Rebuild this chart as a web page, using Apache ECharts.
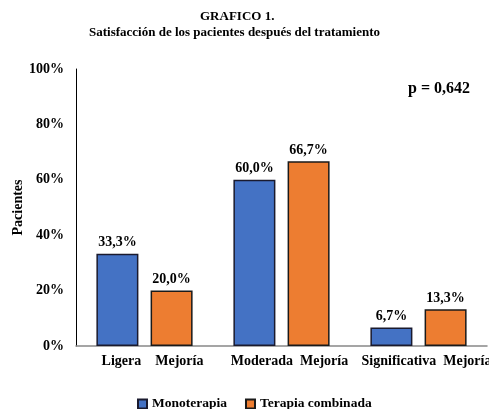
<!DOCTYPE html>
<html>
<head>
  <meta charset="UTF-8">
  <title>GRAFICO 1.</title>
  <script src="https://cdn.jsdelivr.net/npm/echarts@6/dist/echarts.min.js"></script>
</head>
<body style="margin:0">
  <div id="chart" style="width: 489px; height: 409px"></div>
  <script>
    var categorias = ['Ligera    Mejoría', 'Moderada  Mejoría', 'Significativa  Mejoría'];
    var monoterapia = [33.3, 60.0, 6.7];
    var combinada = [20.0, 66.7, 13.3];
    var serie1 = 'Monoterapia';
    var serie2 = 'Terapia combinada';

    var fuente = '"Liberation Serif", "Times New Roman", serif';
    var myChart = echarts.init(document.getElementById('chart'));

    function etiqueta(p) {
      return p.value.toFixed(1).replace('.', ',') + '%';
    }

    var option = {
      textStyle: { fontFamily: fuente },
      title: [
        {
          text: 'GRAFICO 1.',
          left: 200,
          top: 10,
          padding: 0,
          textStyle: { fontFamily: fuente, fontSize: 13, fontWeight: 'bold', color: '#000' }
        },
        {
          text: 'Satisfacción de los pacientes después del tratamiento',
          left: 89,
          top: 26,
          padding: 0,
          textStyle: { fontFamily: fuente, fontSize: 13, fontWeight: 'bold', color: '#000' }
        }
      ],
      legend: {
        data: [serie1, serie2],
        top: 397,
        left: 137,
        padding: 0,
        icon: 'rect',
        itemWidth: 9,
        itemHeight: 9,
        itemGap: 18,
        textStyle: { fontFamily: fuente, fontSize: 13.5, fontWeight: 'bold', color: '#000' }
      },
      grid: { left: 76, right: 2, top: 69, bottom: 63, outerBoundsMode: 'none' },
      xAxis: {
        type: 'category',
        data: categorias,
        axisTick: { show: false },
        axisLine: { lineStyle: { color: '#888', width: 1.5 } },
        axisLabel: {
          interval: 0,
          padding: [0, 0, 0, 16],
          fontFamily: fuente, fontSize: 14, fontWeight: 'bold', color: '#000', margin: 8
        }
      },
      yAxis: {
        type: 'value',
        min: 0,
        max: 100,
        interval: 20,
        name: 'Pacientes',
        nameLocation: 'middle',
        nameGap: 51,
        nameMoveOverlap: false,
        nameTextStyle: { fontFamily: fuente, fontSize: 14, fontWeight: 'bold', color: '#000' },
        splitLine: { show: false },
        axisTick: { show: false },
        axisLine: { show: true, lineStyle: { color: '#000', width: 1 } },
        axisLabel: {
          fontFamily: fuente, fontSize: 14, fontWeight: 'bold', color: '#000', margin: 12,
          formatter: '{value}%'
        }
      },
      graphic: [{
        type: 'text',
        left: 408,
        top: 81,
        style: { text: 'p = 0,642', font: 'bold 16px ' + fuente, fill: '#000' }
      }],
      series: [
        {
          name: serie1,
          type: 'bar',
          data: monoterapia,
          barWidth: 42,
          barGap: '29%',
          itemStyle: { color: '#4472C4', borderColor: '#1a1a2e', borderWidth: 1.5 },
          label: {
            show: true, position: 'top', distance: 4, formatter: etiqueta,
            fontFamily: fuente, fontSize: 14, fontWeight: 'bold', color: '#000'
          }
        },
        {
          name: serie2,
          type: 'bar',
          data: combinada,
          barWidth: 42,
          itemStyle: { color: '#ED7D31', borderColor: '#1a1a1a', borderWidth: 1.5 },
          label: {
            show: true, position: 'top', distance: 4, formatter: etiqueta,
            fontFamily: fuente, fontSize: 14, fontWeight: 'bold', color: '#000'
          }
        }
      ]
    };
    myChart.setOption(option);
  </script>
</body>
</html>
